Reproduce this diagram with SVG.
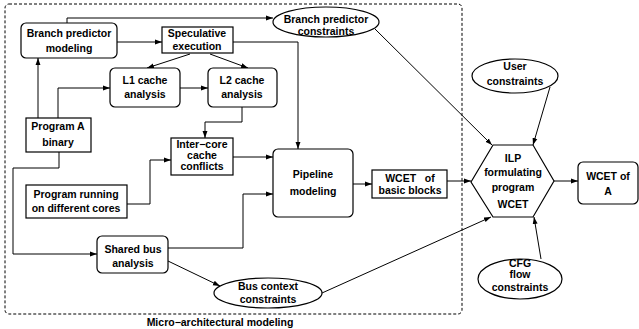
<svg xmlns="http://www.w3.org/2000/svg" width="639" height="329" viewBox="0 0 639 329">
<style>
.b{fill:#fff;stroke:#000;stroke-width:1.2}
.c{fill:none;stroke:#000;stroke-width:1}
text{font-family:"Liberation Sans",Arial,sans-serif;font-weight:bold;font-size:10.5px;text-anchor:middle;fill:#000}
</style>
<defs>
<marker id="a" viewBox="0 0 10 10" refX="10" refY="5" markerWidth="7" markerHeight="7" orient="auto" markerUnits="userSpaceOnUse"><path d="M0,1.5 L10,5 L0,8.5 z" fill="#000"/></marker>
</defs>
<rect x="5" y="4" width="457" height="310" rx="4" fill="none" stroke="#000" stroke-width="1" stroke-dasharray="3,2"/>
<text x="220" y="326">Micro−architectural modeling</text>
<g id="connectors" class="c" marker-end="url(#a)">
<polyline points="67,23 67,18 273,18"/>
<line x1="117" y1="42" x2="162" y2="42"/>
<line x1="190" y1="54" x2="147" y2="68"/>
<line x1="210" y1="54" x2="248" y2="68"/>
<polyline points="233,42 298,42 298,149"/>
<line x1="180" y1="88" x2="208" y2="88"/>
<line x1="38" y1="118" x2="38" y2="58"/>
<polyline points="58,118 58,88 110,88"/>
<polyline points="242,107 242,122 205,122 205,138"/>
<polyline points="127,204 150,204 150,160 171,160"/>
<line x1="233" y1="157" x2="273" y2="157"/>
<polyline points="59,152 59,168 13,168 13,254 97,254"/>
<polyline points="168,248 243,248 243,194 273,194"/>
<line x1="168" y1="261" x2="220" y2="286"/>
<line x1="353" y1="184" x2="372" y2="184"/>
<line x1="447" y1="181" x2="471" y2="181"/>
<line x1="554" y1="181" x2="578" y2="181"/>
<line x1="375" y1="29" x2="492" y2="145"/>
<line x1="550" y1="87" x2="533" y2="145"/>
<line x1="322" y1="293" x2="491" y2="217"/>
<line x1="541" y1="259" x2="534" y2="217"/>
</g>
<g id="bpm"><rect class="b" x="21" y="23" width="96" height="35" rx="5"/><text x="69" y="37">Branch predictor</text><text x="69" y="52">modeling</text></g>
<g id="spec"><rect class="b" x="162" y="27" width="71" height="26"/><text x="197" y="37">Speculative</text><text x="197" y="50">execution</text></g>
<g id="l1"><rect class="b" x="110" y="68" width="70" height="39" rx="5"/><text x="145" y="84">L1 cache</text><text x="145" y="98">analysis</text></g>
<g id="l2"><rect class="b" x="208" y="68" width="69" height="39" rx="5"/><text x="242" y="84">L2 cache</text><text x="242" y="98">analysis</text></g>
<g id="progA"><rect class="b" x="26" y="118" width="65" height="34"/><text x="58" y="130">Program A</text><text x="58" y="146">binary</text></g>
<g id="inter"><rect class="b" x="171" y="138" width="62" height="37"/><text x="202" y="148">Inter−core</text><text x="202" y="159">cache</text><text x="202" y="170">conflicts</text></g>
<g id="prun"><rect class="b" x="26" y="185" width="101" height="33"/><text x="76" y="198">Program running</text><text x="76" y="212">on different cores</text></g>
<g id="pipe"><rect class="b" x="273" y="149" width="80" height="68" rx="5"/><text x="313" y="178">Pipeline</text><text x="313" y="195">modeling</text></g>
<g id="wbb"><rect class="b" x="372" y="170" width="75" height="28"/><text x="410" y="182" style="white-space:pre">WCET   of</text><text x="410" y="194">basic blocks</text></g>
<g id="ilp"><polygon class="b" points="471,182 493,145 533,145 554,181 533,217 493,217"/><text x="513" y="162">ILP</text><text x="513" y="176">formulating</text><text x="513" y="191">program</text><text x="513" y="208">WCET</text></g>
<g id="wa"><rect class="b" x="578" y="162" width="60" height="42" rx="5"/><text x="608" y="180">WCET of</text><text x="608" y="195">A</text></g>
<g id="uc"><ellipse class="b" cx="515" cy="76" rx="43" ry="17"/><text x="515" y="70">User</text><text x="515" y="85">constraints</text></g>
<g id="bpc"><ellipse class="b" cx="326" cy="22" rx="53" ry="15"/><text x="326" y="23">Branch predictor</text><text x="326" y="35">constraints</text></g>
<g id="cfg"><ellipse class="b" cx="520" cy="279" rx="42" ry="20"/><text x="520" y="267">CFG</text><text x="520" y="278">flow</text><text x="520" y="291">constraints</text></g>
<g id="bus"><ellipse class="b" cx="268" cy="293" rx="54" ry="15"/><text x="268" y="290">Bus context</text><text x="268" y="303">constraints</text></g>
<g id="sba"><rect class="b" x="97" y="236" width="71" height="37" rx="5"/><text x="133" y="253">Shared bus</text><text x="133" y="267">analysis</text></g>
</svg>
